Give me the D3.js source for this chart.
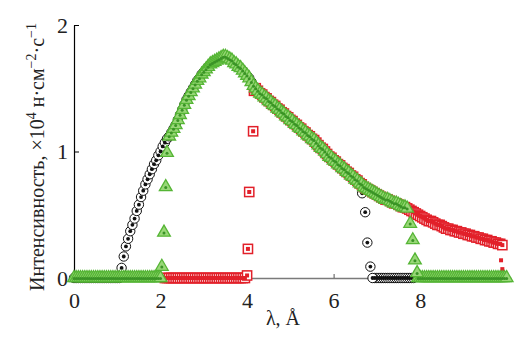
<!DOCTYPE html>
<html>
<head>
<meta charset="utf-8">
<script src="https://cdn.jsdelivr.net/npm/d3@7"></script>
<style>
  body { margin: 0; background: #fff; }
  text { font-family: "Liberation Serif", "Times New Roman", serif; }
</style>
</head>
<body>
<svg id="chart"></svg>
<script>
const width = 530;
const height = 347;

// spectrum envelope, lambda = 1.10 .. 10.00 step 0.05
const curveLambda = d3.range(179).map(i => (110 + 5 * i) / 100);
const curveValues = [
  0.08, 0.17, 0.25, 0.31, 0.37, 0.42, 0.47, 0.53, 0.58, 0.64,
  0.69, 0.74, 0.78, 0.82, 0.86, 0.90, 0.93, 0.97, 1.00, 1.04,
  1.07, 1.10, 1.12, 1.15, 1.18, 1.21, 1.25, 1.29, 1.33, 1.37,
  1.41, 1.44, 1.47, 1.50, 1.53, 1.56, 1.58, 1.61, 1.63, 1.65,
  1.67, 1.69, 1.70, 1.71, 1.72, 1.73, 1.74, 1.75, 1.75, 1.74,
  1.73, 1.72, 1.70, 1.69, 1.67, 1.66, 1.64, 1.62, 1.60, 1.58,
  1.55, 1.52, 1.50, 1.48, 1.46, 1.45, 1.43, 1.42, 1.40, 1.39,
  1.37, 1.36, 1.34, 1.33, 1.31, 1.30, 1.28, 1.27, 1.25, 1.24,
  1.22, 1.21, 1.19, 1.18, 1.16, 1.15, 1.13, 1.12, 1.10, 1.09,
  1.07, 1.05, 1.03, 1.02, 1.00, 0.98, 0.96, 0.95, 0.93, 0.92,
  0.90, 0.89, 0.87, 0.86, 0.84, 0.83, 0.81, 0.80, 0.78, 0.77,
  0.75, 0.74, 0.72, 0.71, 0.70, 0.69, 0.68, 0.67, 0.66, 0.65,
  0.64, 0.63, 0.62, 0.62, 0.61, 0.60, 0.59, 0.59, 0.58, 0.57,
  0.56, 0.56, 0.55, 0.54, 0.53, 0.52, 0.51, 0.50, 0.49, 0.48,
  0.47, 0.46, 0.45, 0.45, 0.44, 0.43, 0.42, 0.42, 0.41, 0.40,
  0.39, 0.39, 0.38, 0.38, 0.37, 0.37, 0.36, 0.36, 0.35, 0.35,
  0.34, 0.34, 0.33, 0.33, 0.32, 0.32, 0.31, 0.31, 0.30, 0.30,
  0.29, 0.29, 0.28, 0.28, 0.27, 0.27, 0.26, 0.26, 0.25
];

// transition points (lambda, intensity) where each spectrum switches on / off
const blackDrop = [[6.66, 0.67], [6.73, 0.52], [6.78, 0.28], [6.85, 0.09], [6.9, 0.0]];
const redRise = [[4.0, 0.02], [4.02, 0.23], [4.05, 0.68], [4.14, 1.16], [4.16, 1.48]];
const redEnd = [[9.87, 0.14], [9.9, 0.07]];
const greenRise = [[2.03, 0.09], [2.08, 0.36], [2.12, 0.72], [2.15, 0.99]];
const greenDrop = [[7.77, 0.43], [7.83, 0.30], [7.88, 0.14], [7.93, 0.04]];

// zero stretches (lambda positions, step 0.05)
const step = i => i / 20;
const blackZero = d3.range(0, 22).map(step).concat(d3.range(139, 158).map(step));
const redZero = d3.range(42, 80).map(step);
const greenZero = d3.range(0, 41).map(step).concat(d3.range(159, 201).map(step));

const xTicks = [0, 2, 4, 6, 8];
const yTicks = [0, 1, 2];

function curveSlice(from, to) {
  return curveLambda
    .map((l, i) => [l, curveValues[i]])
    .filter(d => d[0] >= from - 1e-9 && d[0] <= to + 1e-9);
}
const zeros = arr => arr.map(l => [l, 0]);

const blackPts = zeros(blackZero).concat(curveSlice(1.1, 6.6), blackDrop);
const redPts = zeros(redZero).concat(redRise, curveSlice(4.2, 9.9));
const greenPts = zeros(greenZero).concat(greenRise, curveSlice(2.2, 7.7), greenDrop);

const svg = d3.select("#chart").attr("width", width).attr("height", height);

const x = d3.scaleLinear().domain([0, 10.1]).range([74, 511]);
const y = d3.scaleLinear().domain([0, 2]).range([278, 25]);

// x axis (grey line, ticks pointing up)
const xAxis = svg.append("g")
  .attr("transform", `translate(0,${y(0)})`)
  .call(d3.axisBottom(x).tickValues(xTicks).tickFormat(d3.format("d"))
    .tickSizeInner(-4).tickSizeOuter(0).tickPadding(14));
xAxis.select(".domain").attr("stroke", "#7a7a7a").attr("stroke-width", 1.6);
xAxis.selectAll(".tick line").attr("stroke", "#555");
xAxis.selectAll("text").attr("font-size", 22).attr("fill", "#222")
  .style("font-family", "'Liberation Serif', serif");

// y axis (black, ticks pointing right)
const yAxis = svg.append("g")
  .attr("transform", `translate(${x(0)},0)`)
  .call(d3.axisLeft(y).tickValues(yTicks).tickFormat(d3.format("d"))
    .tickSizeInner(-5).tickSizeOuter(0).tickPadding(6));
yAxis.select(".domain").attr("stroke", "#000").attr("stroke-width", 1.2);
yAxis.selectAll("text").attr("font-size", 22).attr("fill", "#222")
  .style("font-family", "'Liberation Serif', serif");

const marks = svg.append("g");

// black: open circle with a dot
const gBlack = marks.append("g");
gBlack.selectAll("circle.o").data(blackPts).enter().append("circle")
  .attr("cx", d => x(d[0])).attr("cy", d => y(d[1])).attr("r", 4.7)
  .attr("fill", "#fff").attr("stroke", "#111").attr("stroke-width", 1);
gBlack.selectAll("circle.i").data(blackPts).enter().append("circle")
  .attr("cx", d => x(d[0])).attr("cy", d => y(d[1])).attr("r", 1.9)
  .attr("fill", "#111");

// red: open square with a dot
const red = "#e2202a";
const gRed = marks.append("g");
gRed.selectAll("rect.o").data(redPts).enter().append("rect")
  .attr("x", d => x(d[0]) - 4.6).attr("y", d => y(d[1]) - 4.6)
  .attr("width", 9.2).attr("height", 9.2)
  .attr("fill", "#fff").attr("stroke", red).attr("stroke-width", 1.5);
gRed.selectAll("rect.i").data(redPts.concat(redEnd)).enter().append("rect")
  .attr("x", d => x(d[0]) - 2).attr("y", d => y(d[1]) - 2)
  .attr("width", 4).attr("height", 4)
  .attr("fill", red);

// green: triangle with a dot
const tri = d3.symbol().type(d3.symbolTriangle).size(70);
const gGreen = marks.append("g");
gGreen.selectAll("path").data(greenPts).enter().append("path")
  .attr("transform", d => `translate(${x(d[0])},${y(d[1])})`)
  .attr("d", tri)
  .attr("fill", "#98d777").attr("stroke", "#55b535").attr("stroke-width", 1.3);
gGreen.selectAll("circle").data(greenPts).enter().append("circle")
  .attr("cx", d => x(d[0])).attr("cy", d => y(d[1]) + 0.5).attr("r", 1.5)
  .attr("fill", "#3a9326");

// axis titles
svg.append("text")
  .attr("x", 283).attr("y", 325)
  .attr("text-anchor", "middle").attr("font-size", 20).attr("fill", "#222")
  .text("λ, Å");

const yl = svg.append("text")
  .attr("transform", "translate(44,157) rotate(-90)")
  .attr("text-anchor", "middle").attr("font-size", 20).attr("fill", "#222");
yl.append("tspan").text("Интенсивность, ×10");
yl.append("tspan").attr("dy", -8).attr("font-size", 14).text("4");
yl.append("tspan").attr("dy", 8).text(" н·см");
yl.append("tspan").attr("dy", -8).attr("font-size", 14).text("−2");
yl.append("tspan").attr("dy", 8).text("·с");
yl.append("tspan").attr("dy", -8).attr("font-size", 14).text("−1");
</script>
</body>
</html>
